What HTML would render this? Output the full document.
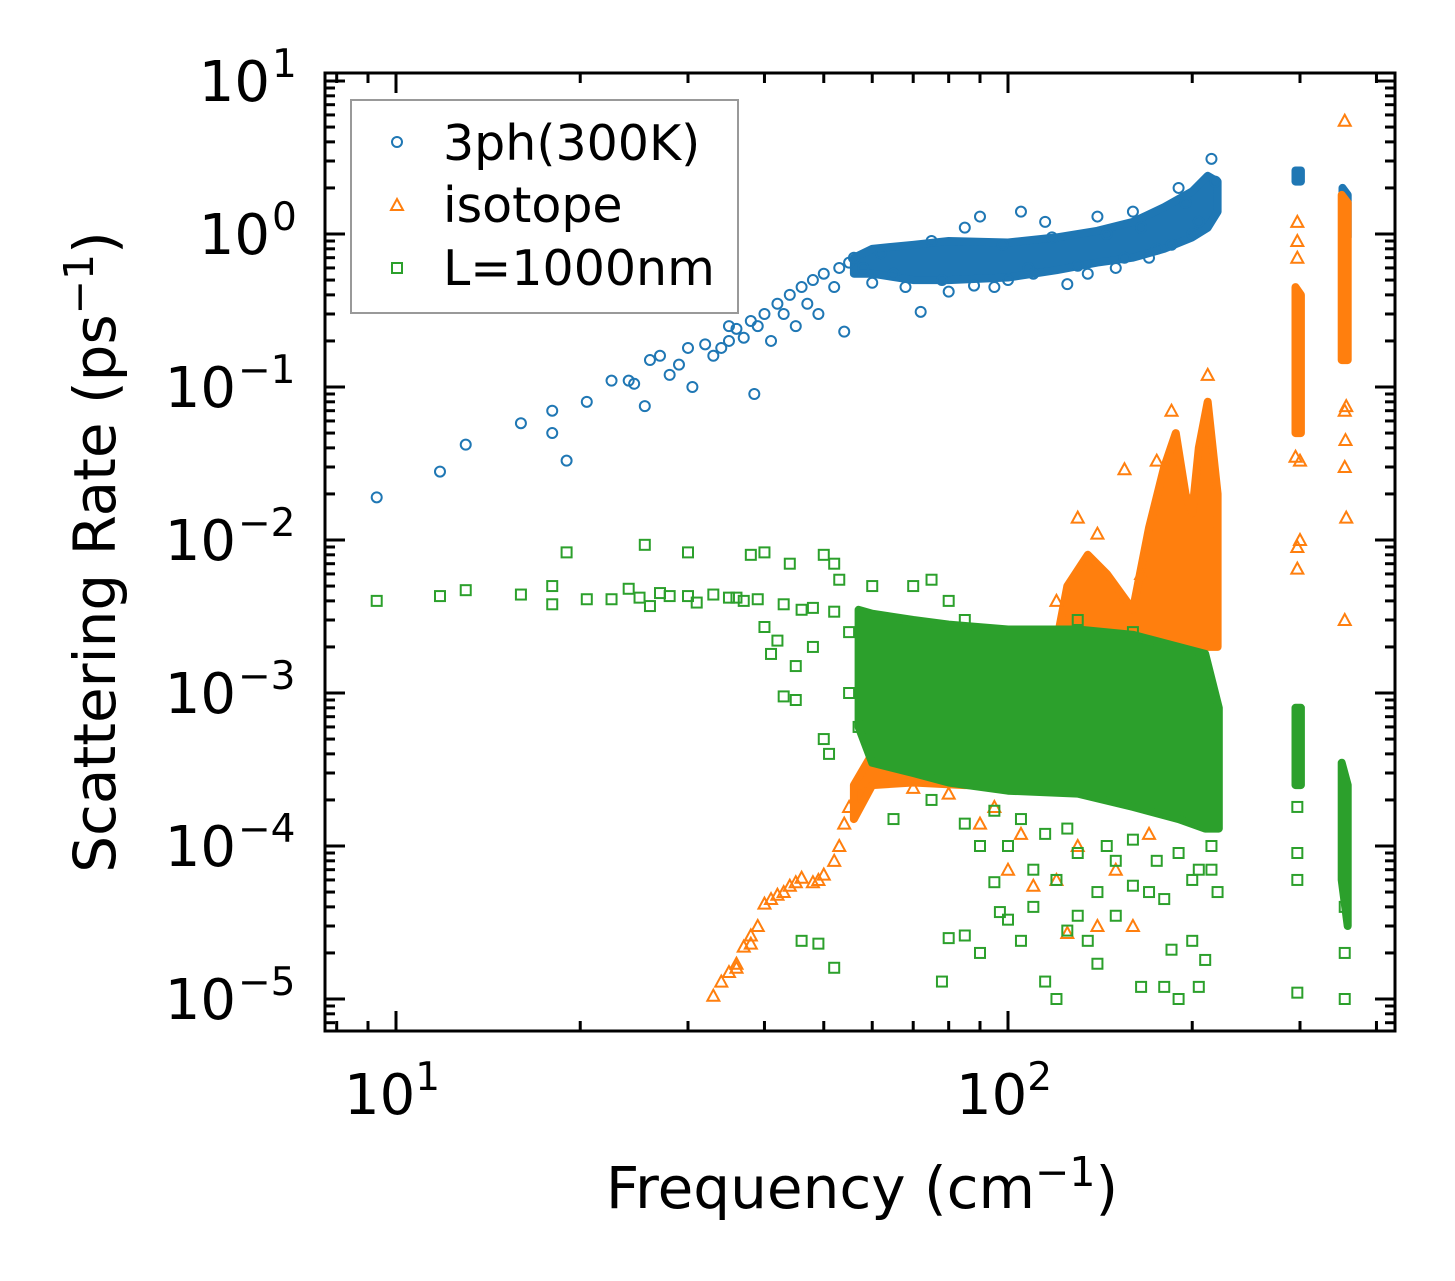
<!DOCTYPE html>
<html><head><meta charset="utf-8">
<style>
html,body{margin:0;padding:0;background:#fff;}
svg{display:block;font-family:"DejaVu Sans","Liberation Sans",sans-serif;}
</style></head>
<body>
<svg id="chart" width="1455" height="1281" viewBox="0 0 1455 1281" xmlns="http://www.w3.org/2000/svg">
<g id="series"></g>
<g id="axes"></g>
<text x="0" y="0" transform="translate(115,552) rotate(-90)" text-anchor="middle" font-size="58">Scattering Rate (ps<tspan dy="-22" font-size="41">−1</tspan><tspan dy="22">)</tspan></text>
<text x="862" y="1208" text-anchor="middle" font-size="58">Frequency (cm<tspan dy="-22" font-size="41">−1</tspan><tspan dy="22">)</tspan></text>
<g>
<rect x="351" y="100" width="387" height="213" fill="#fff" stroke="#999" stroke-width="2"/>
<circle cx="397" cy="142" r="5" fill="none" stroke="#1f77b4" stroke-width="2"/>
<text x="443" y="160" font-size="49">3ph(300K)</text>
<polygon points="397,199 391,210 403,210" fill="none" stroke="#ff7f0e" stroke-width="2"/>
<text x="443" y="222" font-size="49">isotope</text>
<rect x="392" y="263" width="10" height="10" fill="none" stroke="#2ca02c" stroke-width="2"/>
<text x="443" y="285" font-size="49">L=1000nm</text>
</g>
</svg>
<script>
// ---- data ----
const xTicksMajor = [10, 100];
const xTickLabels = ["1", "2"];
const yTicksMajor = [-5, -4, -3, -2, -1, 0, 1];
const phPoints = [[9.3,0.019],[11.8,0.028],[13,0.042],[16,0.058],[18,0.07],[18,0.05],[19,0.033],[20.5,0.08],[22.5,0.11],[24,0.11],[24.5,0.105],[25.5,0.075],[26,0.15],[27,0.16],[28,0.12],[29,0.14],[30,0.18],[30.5,0.1],[32,0.19],[33,0.16],[34,0.18],[35,0.2],[35,0.25],[36,0.24],[37,0.21],[38,0.27],[38.5,0.09],[39,0.25],[40,0.3],[41,0.2],[42,0.35],[43,0.3],[44,0.4],[45,0.25],[46,0.45],[47,0.35],[48,0.5],[49,0.3],[50,0.55],[52,0.45],[53,0.6],[54,0.23],[55,0.65],[56,0.7],[72,0.31],[90,1.3],[105,1.4],[125,0.47],[75,0.9],[85,1.1],[115,1.2],[140,1.3],[160,1.4],[190,2.0],[215,3.1],[60,0.48],[65,0.55],[80,0.42],[95,0.45],[100,0.5],[110,0.55],[130,0.62],[150,0.6],[170,0.7],[185,0.85],[200,1.0],[58,0.6],[62,0.75],[68,0.45],[78,0.5],[88,0.46],[98,0.85],[108,0.6],[118,0.95],[135,0.55],[145,1.0],[155,0.7],[165,1.1],[175,0.8],[195,1.6],[205,1.2],[218,2.2]];
const phBands = [
 [[56,0.55,0.7],[60,0.55,0.8],[70,0.5,0.85],[80,0.5,0.9],[100,0.52,0.88],[120,0.58,0.95],[140,0.65,1.05],[160,0.7,1.2],[180,0.8,1.5],[200,0.95,1.9],[212,1.1,2.4],[220,1.4,2.2]],
 [[295,2.2,2.6],[301,2.2,2.6]],
 [[352,1.0,2.0],[359,0.95,1.8]]
];
const isoPoints = [[33,1.05e-5],[34,1.3e-5],[35,1.5e-5],[36,1.7e-5],[37,2.2e-5],[38,2.6e-5],[39,3e-5],[40,4.2e-5],[41,4.5e-5],[42,4.8e-5],[44,5.5e-5],[46,6.2e-5],[48,5.8e-5],[50,6.5e-5],[52,8e-5],[53,1e-4],[54,1.4e-4],[55,1.8e-4],[57,2.5e-4],[155,2.9e-2],[297,6.5e-3],[300,1e-2],[297,9e-3],[300,3.3e-2],[295,3.5e-2],[355,5.5],[355,0.03],[357,0.014],[355,3e-3],[357,0.075],[356,0.045],[297,1.2],[297,0.9],[297,0.7],[355,0.07],[90,1.4e-4],[100,7e-5],[110,5.5e-5],[120,6e-5],[125,2.7e-5],[140,3e-5],[160,3e-5],[70,2.4e-4],[80,2.2e-4],[95,1.8e-4],[105,1.2e-4],[130,1e-4],[150,7e-5],[170,1.2e-4],[130,1.4e-2],[140,1.1e-2],[175,3.3e-2],[185,0.07],[212,0.12],[120,4e-3],[165,6e-3],[36,1.6e-5],[38,2.3e-5],[43,5e-5],[45,5.8e-5],[49,6e-5]];
const isoBands = [
 [[56,1.5e-4,2.5e-4],[60,2.5e-4,4e-4],[70,2.6e-4,5e-4],[85,2.5e-4,6e-4],[100,2.5e-4,8e-4],[118,3e-4,1.5e-3],[125,3e-4,5e-3],[135,3e-4,8e-3],[145,3e-4,6e-3],[160,3e-4,3.5e-3],[170,5e-4,1.2e-2],[180,8e-4,3e-2],[188,1e-3,5e-2],[195,1e-3,2e-2],[200,1.5e-3,1.5e-2],[205,2e-3,4e-2],[212,2e-3,8e-2],[220,2e-3,2e-2]],
 [[295,0.05,0.45],[301,0.05,0.4]],
 [[351,0.15,1.8],[359,0.15,1.6]]
];
const bdPoints = [[9.3,4e-3],[11.8,4.3e-3],[13,4.7e-3],[16,4.4e-3],[18,3.8e-3],[18,5e-3],[19,8.3e-3],[20.5,4.1e-3],[22.5,4.1e-3],[24,4.8e-3],[25,4.2e-3],[25.5,9.3e-3],[26,3.7e-3],[27,4.5e-3],[28,4.3e-3],[30,8.3e-3],[30,4.3e-3],[31,3.9e-3],[33,4.4e-3],[35,4.2e-3],[36,4.2e-3],[38,8e-3],[37,4e-3],[39,4.1e-3],[40,8.3e-3],[40,2.7e-3],[41,1.8e-3],[42,2.2e-3],[43,9.5e-4],[44,7e-3],[45,9e-4],[46,2.4e-5],[49,2.3e-5],[50,8e-3],[50,5e-4],[51,4e-4],[52,1.6e-5],[52,7e-3],[53,5.5e-3],[55,1e-3],[57,6e-4],[45,1.5e-3],[48,2e-3],[55,2.5e-3],[43,3.8e-3],[46,3.5e-3],[48,3.6e-3],[52,3.4e-3],[78,1.3e-5],[80,2.5e-5],[85,2.6e-5],[90,2e-5],[95,5.8e-5],[97,3.7e-5],[100,3.3e-5],[105,2.4e-5],[110,4e-5],[115,1.3e-5],[120,1e-5],[125,2.8e-5],[130,3.5e-5],[135,2.4e-5],[140,1.7e-5],[150,3.5e-5],[160,5.5e-5],[165,1.2e-5],[180,1.2e-5],[185,2.1e-5],[190,1e-5],[200,2.4e-5],[205,1.2e-5],[210,1.8e-5],[220,5e-5],[100,1e-4],[110,7e-5],[120,6e-5],[130,9e-5],[140,5e-5],[150,8e-5],[170,5e-5],[180,4.5e-5],[200,6e-5],[215,7e-5],[297,1.1e-5],[297,6e-5],[297,9e-5],[297,1.8e-4],[355,1e-5],[355,2e-5],[355,4e-5],[60,5e-3],[70,5e-3],[75,5.5e-3],[80,4e-3],[85,3e-3],[130,3e-3],[160,2.5e-3],[65,1.5e-4],[75,2e-4],[85,1.4e-4],[90,1e-4],[95,1.7e-4],[105,1.5e-4],[115,1.2e-4],[125,1.3e-4],[145,1e-4],[160,1.1e-4],[175,8e-5],[190,9e-5],[205,7e-5],[215,1e-4]];
const bdBands = [
 [[57,6e-4,3.5e-3],[60,3.5e-4,3.3e-3],[70,3e-4,3e-3],[80,2.6e-4,2.8e-3],[100,2.3e-4,2.6e-3],[130,2.2e-4,2.6e-3],[160,1.8e-4,2.4e-3],[190,1.5e-4,2e-3],[210,1.3e-4,1.8e-3],[221,1.3e-4,8e-4]],
 [[295,2.5e-4,8e-4],[301,2.5e-4,8e-4]],
 [[351,6e-5,3.5e-4],[359,3e-5,2.5e-4]]
];
// ---- axes ----
const L=325,R=1395,T=73,B=1031;
const X0=396, XD=612, Y0=234, YD=153;
function xs(f){return X0+XD*(Math.log10(f)-1);}
function ys(v){return Y0-YD*Math.log10(v);}
const NS="http://www.w3.org/2000/svg";
const S=document.getElementById('series'), A=document.getElementById('axes');
function mk(tag,attrs,parent){const e=document.createElementNS(NS,tag);for(const k in attrs)e.setAttribute(k,attrs[k]);parent.appendChild(e);return e;}
function band(seg,color,g){
  let p=seg.map(d=>xs(d[0]).toFixed(1)+','+ys(d[2]).toFixed(1));
  const lo=seg.slice().reverse().map(d=>xs(d[0]).toFixed(1)+','+ys(d[1]).toFixed(1));
  const el=mk('polygon',{points:p.concat(lo).join(' '),fill:color,stroke:color,'stroke-width':8,'stroke-linejoin':'round'},g);
  
  
}
// blue
const gB=mk('g',{},S);


phBands.forEach(s=>band(s,'#1f77b4',gB));
phPoints.forEach(d=>{const c=mk('circle',{cx:xs(d[0]),cy:ys(d[1]),r:5,fill:'none',stroke:'#1f77b4','stroke-width':2},gB);

});
// orange
const gO=mk('g',{},S);


isoBands.forEach(s=>band(s,'#ff7f0e',gO));
isoPoints.forEach(d=>{const x=xs(d[0]),y=ys(d[1]);const t=mk('polygon',{points:`${x},${y-6} ${x-6},${y+5} ${x+6},${y+5}`,fill:'none',stroke:'#ff7f0e','stroke-width':2},gO);

});
// green
const gG=mk('g',{},S);


bdBands.forEach(s=>band(s,'#2ca02c',gG));
bdPoints.forEach(d=>{const x=xs(d[0]),y=ys(d[1]);const r=mk('rect',{x:x-5,y:y-5,width:10,height:10,fill:'none',stroke:'#2ca02c','stroke-width':2},gG);

});
// frame
const fr=mk('rect',{x:L,y:T,width:R-L,height:B-T,fill:'none',stroke:'#000','stroke-width':3},A);


// x ticks
for(let dec=0;dec<=2;dec++){for(let m=1;m<=9;m++){const f=m*Math.pow(10,dec);const x=xs(f);if(x<L||x>R)continue;const len=m===1?20:10;
 mk('line',{x1:x,y1:B,x2:x,y2:B-len,stroke:'#000','stroke-width':3},A);
 mk('line',{x1:x,y1:T,x2:x,y2:T+len,stroke:'#000','stroke-width':3},A);}}
xTicksMajor.forEach((f,i)=>{const t=mk('text',{x:xs(f)-4,y:1114,'text-anchor':'middle','font-size':56},A);


t.innerHTML='10<tspan dy="-24" font-size="39">'+xTickLabels[i]+'</tspan>';});
// y ticks
for(let e=-6;e<=1;e++){for(let m=1;m<=9;m++){const v=m*Math.pow(10,e);const y=ys(v);if(y<T||y>B)continue;const len=m===1?20:10;
 mk('line',{x1:L,y1:y,x2:L+len,y2:y,stroke:'#000','stroke-width':3},A);
 mk('line',{x1:R,y1:y,x2:R-len,y2:y,stroke:'#000','stroke-width':3},A);}}
yTicksMajor.forEach(e=>{const base=ys(Math.pow(10,e))+20;
const t=mk('text',{x:(e<0?236:270),y:base,'text-anchor':'end','font-size':56},A);


t.textContent='10';
const s=mk('text',{x:(e<0?238:272),y:base-24,'text-anchor':'start','font-size':39},A);


s.textContent=(e<0?'−'+(-e):String(e));});
</script>
</body></html>
